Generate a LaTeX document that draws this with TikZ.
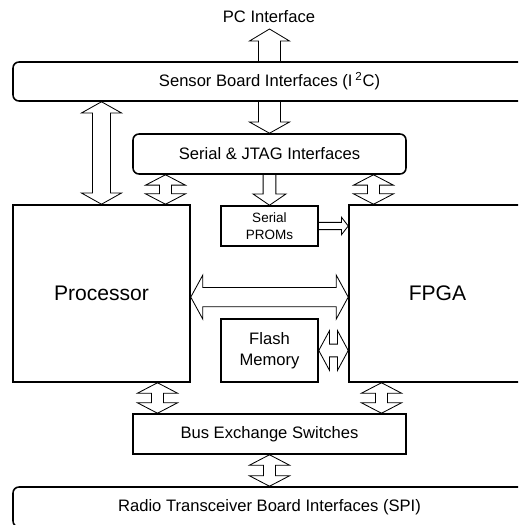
\documentclass[tikz,border=0pt]{standalone}
\usepackage{fontspec}
\setmainfont{Liberation Sans}
\usetikzlibrary{calc}

\tikzset{
  block/.style={draw, line width=1.1pt, align=center},
  roundblock/.style={block, rounded corners=0.15cm},
  bigtext/.style={font=\fontsize{15}{18}\selectfont},
  smalltext/.style={font=\fontsize{9.6}{12}\selectfont},
  busline/.style={draw, line width=0.6pt, line join=miter},
}

% double block arrow: tip, tip, shaft half width, head half width, head length
\newcommand{\dblbus}[5]{%
  \coordinate (ba) at ($(#1)!#5!(#2)$);
  \coordinate (bb) at ($(#2)!#5!(#1)$);
  \draw [busline] (#1) -- ($(ba)!#4!90:(#2)$) -- ($(ba)!#3!90:(#2)$)
    -- ($(bb)!#3!-90:(#1)$) -- ($(bb)!#4!-90:(#1)$) -- (#2)
    -- ($(bb)!#4!90:(#1)$) -- ($(bb)!#3!90:(#1)$)
    -- ($(ba)!#3!-90:(#2)$) -- ($(ba)!#4!-90:(#2)$) -- cycle;
}
% single block arrow: tail, tip, shaft half width, head half width, head length
\newcommand{\onebus}[5]{%
  \coordinate (bb) at ($(#2)!#5!(#1)$);
  \draw [busline] ($(#1)!#3!-90:(#2)$) -- ($(bb)!#3!90:(#1)$)
    -- ($(bb)!#4!90:(#1)$) -- (#2) -- ($(bb)!#4!-90:(#1)$)
    -- ($(bb)!#3!-90:(#1)$) -- ($(#1)!#3!90:(#2)$);
}

\begin{document}
\begin{tikzpicture}[font=\fontsize{11.8}{14}\selectfont]
            \useasboundingbox (0,0) rectangle (12.95,13.125);
            \clip (0,0) rectangle (12.95,13.125);

            %PC Interface
            \node (pc) at (6.725,12.7) {PC Interface};
            \coordinate (pcTip) at (6.7375,12.4);

            %Sensor Board
            \node [roundblock, minimum width = 12.825cm, minimum height = 0.975cm]
            (sensor) at (6.7375,11.0875) {Sensor Board Interfaces (I\,\textsuperscript{2}C)};
            %Serial & JTAG
            \node [roundblock, minimum width = 6.825cm, minimum height = 1cm]
            (serial) at (6.7375,9.275) {Serial \& JTAG Interfaces};

            %Processor
            \node [block, bigtext, minimum width = 4.425cm, minimum height = 4.425cm]
            (proc) at (2.5375,5.7875) {Processor};
            %FPGA
            \node [block, bigtext, minimum width = 4.425cm, minimum height = 4.425cm]
            (fpga) at (10.9375,5.7875) {FPGA};

            %Serial PROMs
            \node [block, smalltext, minimum width = 2.425cm, minimum height = 1cm]
            (proms) at (6.7375,7.475) {Serial\\PROMs};
            %Flash
            \node [block, font=\fontsize{11.8}{15}\selectfont, minimum width = 2.425cm, minimum height = 1.575cm]
            (flash) at (6.7375,4.3625) {Flash\\Memory};

            %Bus Exchange
            \node [block, minimum width = 6.825cm, minimum height = 1cm]
            (bus) at (6.7375,2.275) {Bus Exchange Switches};
            %Radio
            \node [roundblock, minimum width = 12.825cm, minimum height = 1cm]
            (radio) at (6.7375,0.45) {Radio Transceiver Board Interfaces (SPI)};

            %arrow ends
            \coordinate (sp) at (sensor.south -| proc.north);
            \coordinate (jl) at ([xshift=-2.6cm]serial.south);
            \coordinate (jr) at ([xshift=2.6cm]serial.south);
            \coordinate (jlb) at (jl |- proc.north);
            \coordinate (jrb) at (jr |- fpga.north);
            \coordinate (pt) at (proms.east -| fpga.west);
            \coordinate (pf) at ([yshift=-0.09cm]proc.east);
            \coordinate (pfb) at (pf -| fpga.west);
            \coordinate (ff) at (flash.east -| fpga.west);
            \coordinate (bl) at ([xshift=-2.8cm]bus.north);
            \coordinate (br) at ([xshift=2.8cm]bus.north);
            \coordinate (blt) at (bl |- proc.south);
            \coordinate (brt) at (br |- fpga.south);

            \onebus{sensor.north}{pcTip}{0.275cm}{0.5cm}{0.3cm}
            \onebus{sensor.south}{serial.north}{0.275cm}{0.5cm}{0.28cm}
            \dblbus{sp}{proc.north}{0.225cm}{0.5cm}{0.28cm}
            \dblbus{jl}{jlb}{0.15cm}{0.5cm}{0.26cm}
            \dblbus{jr}{jrb}{0.15cm}{0.5cm}{0.26cm}
            \onebus{serial.south}{proms.north}{0.16cm}{0.41cm}{0.28cm}
            \onebus{proms.east}{pt}{0.09cm}{0.22cm}{0.17cm}
            \dblbus{pf}{pfb}{0.24cm}{0.55cm}{0.3cm}
            \dblbus{flash.east}{ff}{0.16cm}{0.5cm}{0.27cm}
            \dblbus{blt}{bl}{0.15cm}{0.5cm}{0.26cm}
            \dblbus{brt}{br}{0.15cm}{0.5cm}{0.26cm}
            \dblbus{bus.south}{radio.north}{0.15cm}{0.5cm}{0.26cm}

        \end{tikzpicture}
\end{document}
